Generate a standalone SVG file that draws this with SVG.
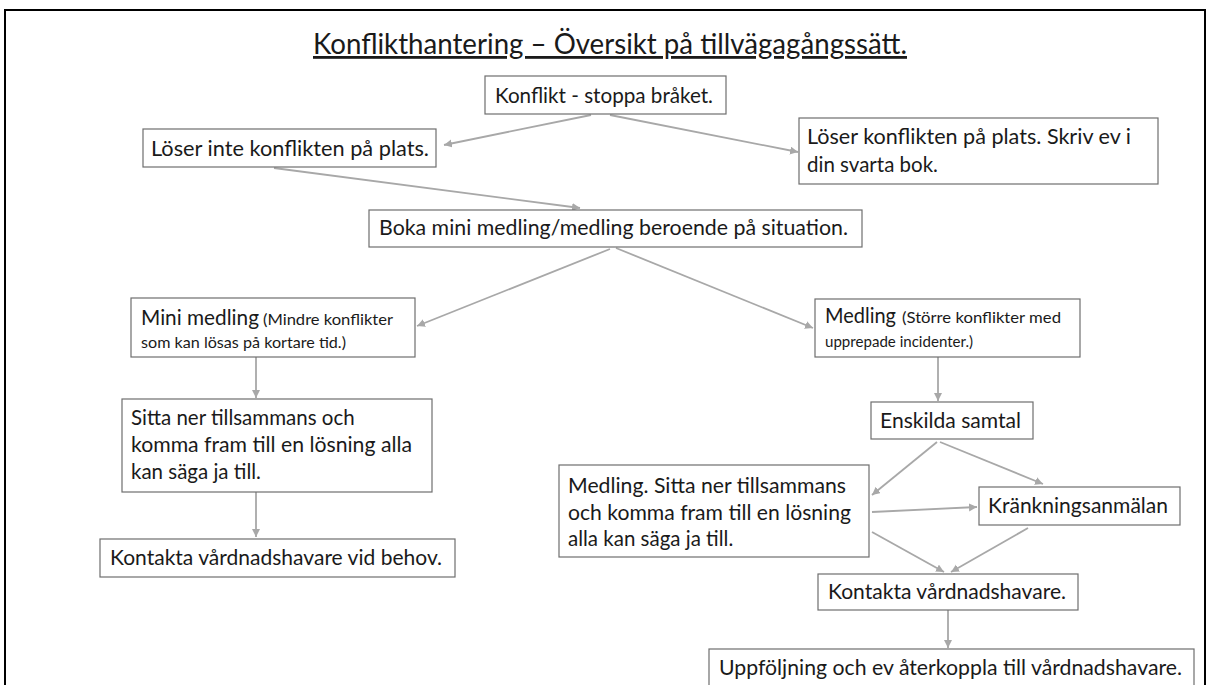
<svg xmlns="http://www.w3.org/2000/svg" width="1211" height="685" viewBox="0 0 1211 685">
<defs>
<style>
.box{fill:#ffffff;stroke:#6e6e6e;stroke-width:1.2}
.t{font-family:Lato,"Open Sans","Liberation Sans",sans-serif;font-size:20.5px;fill:#1a1a1a}
.s{font-size:15px}
.c{fill:none;stroke:#a8a8a8;stroke-width:1.8}
</style>
<marker id="ah" markerUnits="userSpaceOnUse" markerWidth="9" markerHeight="9" refX="8" refY="4" orient="auto">
<path d="M0,0 L8,4 L0,8 z" fill="#a8a8a8"/>
</marker>
</defs>
<rect width="1211" height="685" fill="#ffffff"/>
<path d="M5,685 L5,10 L1205,10 L1205,685" fill="none" stroke="#000" stroke-width="2"/>
<text class="t" x="313" y="54" textLength="594" lengthAdjust="spacingAndGlyphs" text-decoration="underline" style="font-size:28px">Konflikthantering – Översikt på tillvägagångssätt.</text>
<g id="connectors">
<line class="c" x1="591" y1="115" x2="444" y2="145" marker-end="url(#ah)"/>
<line class="c" x1="610" y1="115" x2="798" y2="152" marker-end="url(#ah)"/>
<line class="c" x1="274" y1="168" x2="580" y2="208" marker-end="url(#ah)"/>
<line class="c" x1="610" y1="249" x2="417" y2="326" marker-end="url(#ah)"/>
<line class="c" x1="616" y1="248" x2="813" y2="328" marker-end="url(#ah)"/>
<line class="c" x1="256" y1="357" x2="256" y2="398" marker-end="url(#ah)"/>
<line class="c" x1="256" y1="492" x2="256" y2="537" marker-end="url(#ah)"/>
<line class="c" x1="938" y1="357" x2="938" y2="401" marker-end="url(#ah)"/>
<line class="c" x1="937" y1="442" x2="872" y2="495" marker-end="url(#ah)"/>
<line class="c" x1="940" y1="442" x2="1043" y2="484" marker-end="url(#ah)"/>
<line class="c" x1="872" y1="512" x2="977" y2="507" marker-end="url(#ah)"/>
<line class="c" x1="872" y1="532" x2="944" y2="572" marker-end="url(#ah)"/>
<line class="c" x1="1028" y1="528" x2="951" y2="572" marker-end="url(#ah)"/>
<line class="c" x1="948" y1="610" x2="948" y2="648" marker-end="url(#ah)"/>
</g>
<g id="n-konflikt">
<rect class="box" x="485" y="76" width="241" height="38"/>
<text class="t" x="495" y="103" textLength="218" lengthAdjust="spacingAndGlyphs">Konflikt - stoppa bråket.</text>
</g>
<g id="n-loser-inte">
<rect class="box" x="143" y="129" width="293" height="38"/>
<text class="t" x="151" y="156" textLength="278" lengthAdjust="spacingAndGlyphs">Löser inte konflikten på plats.</text>
</g>
<g id="n-loser">
<rect class="box" x="799" y="118" width="359" height="66"/>
<text class="t" x="807" y="144" textLength="324" lengthAdjust="spacingAndGlyphs">Löser konflikten på plats. Skriv ev i</text>
<text class="t" x="807" y="172">din svarta bok.</text>
</g>
<g id="n-boka">
<rect class="box" x="369" y="210" width="493" height="37"/>
<text class="t" x="379" y="235" textLength="469" lengthAdjust="spacingAndGlyphs">Boka mini medling/medling beroende på situation.</text>
</g>
<g id="n-mini">
<rect class="box" x="131" y="298" width="284" height="59"/>
<text class="t" x="141" y="325" textLength="118" lengthAdjust="spacingAndGlyphs">Mini medling</text>
<text class="t s" x="263" y="325" textLength="130" lengthAdjust="spacingAndGlyphs">(Mindre konflikter</text>
<text class="t s" x="141" y="348" textLength="205" lengthAdjust="spacingAndGlyphs">som kan lösas på kortare tid.)</text>
</g>
<g id="n-medling">
<rect class="box" x="815" y="299" width="265" height="58"/>
<text class="t" x="825" y="323" textLength="71" lengthAdjust="spacingAndGlyphs">Medling</text>
<text class="t s" x="902" y="323" textLength="159" lengthAdjust="spacingAndGlyphs">(Större konflikter med</text>
<text class="t s" x="825" y="347" textLength="148" lengthAdjust="spacingAndGlyphs">upprepade incidenter.)</text>
</g>
<g id="n-sitta">
<rect class="box" x="122" y="399" width="310" height="93"/>
<text class="t" x="131" y="425">Sitta ner tillsammans och</text>
<text class="t" x="131" y="452" textLength="281" lengthAdjust="spacingAndGlyphs">komma fram till en lösning alla</text>
<text class="t" x="131" y="479">kan säga ja till.</text>
</g>
<g id="n-kontakta-behov">
<rect class="box" x="100" y="539" width="355" height="38"/>
<text class="t" x="110" y="565" textLength="332" lengthAdjust="spacingAndGlyphs">Kontakta vårdnadshavare vid behov.</text>
</g>
<g id="n-enskilda">
<rect class="box" x="871" y="402" width="162" height="37"/>
<text class="t" x="880" y="428" textLength="141" lengthAdjust="spacingAndGlyphs">Enskilda samtal</text>
</g>
<g id="n-medling-sitta">
<rect class="box" x="559" y="465" width="310" height="92"/>
<text class="t" x="568" y="493" textLength="278" lengthAdjust="spacingAndGlyphs">Medling. Sitta ner tillsammans</text>
<text class="t" x="568" y="520" textLength="283" lengthAdjust="spacingAndGlyphs">och komma fram till en lösning</text>
<text class="t" x="568" y="546">alla kan säga ja till.</text>
</g>
<g id="n-krankning">
<rect class="box" x="979" y="487" width="201" height="38"/>
<text class="t" x="988" y="513" textLength="180" lengthAdjust="spacingAndGlyphs">Kränkningsanmälan</text>
</g>
<g id="n-kontakta">
<rect class="box" x="818" y="574" width="260" height="36"/>
<text class="t" x="828" y="599" textLength="238" lengthAdjust="spacingAndGlyphs">Kontakta vårdnadshavare.</text>
</g>
<g id="n-uppfoljning">
<rect class="box" x="709" y="649" width="485" height="50"/>
<text class="t" x="719" y="675" textLength="463" lengthAdjust="spacingAndGlyphs">Uppföljning och ev återkoppla till vårdnadshavare.</text>
</g>
</svg>
